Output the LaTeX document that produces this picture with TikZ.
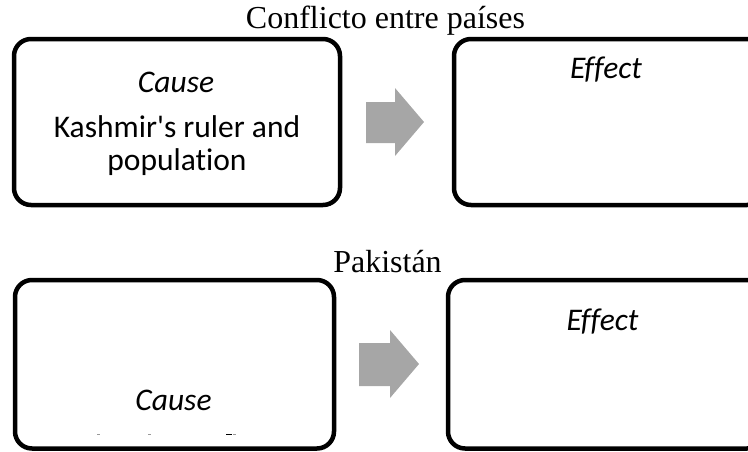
\documentclass[tikz,border=0pt]{standalone}
\usepackage{fontspec}
\setmainfont{Liberation Serif}
\newfontfamily\calib[Ligatures={NoCommon}]{Carlito}
\begin{document}
\begin{tikzpicture}[x=1pt,y=-1pt,
  box/.style={draw=black,line width=4.5pt,rounded corners=17pt},
  arrowfill/.style={fill=black!35,draw=none},
  titletext/.style={anchor=base,inner sep=0pt,font=\fontsize{32}{38}\selectfont},
  boxtext/.style={anchor=base,inner sep=0pt,font=\calib\fontsize{31.5}{37}\selectfont},
  boxital/.style={anchor=base,inner sep=0pt,font=\calib\itshape\fontsize{31.5}{37}\selectfont}]
\useasboundingbox (0,0) rectangle (748,451);
\begin{scope}
\clip (0,0) rectangle (748,451);
% boxes
\draw[box] (14,39) rectangle (340,205);
\coordinate (tl) at (177,122);
\draw[box] (454,39) rectangle (764,205);
\coordinate (tr) at (606,122);
\draw[box] (15,280) rectangle (334,448.5);
\coordinate (bl) at (174,364);
\draw[box] (448,280) rectangle (764,448.5);
\coordinate (br) at (603,364);
\end{scope}
% arrows
\fill[arrowfill] (366,102) -- (395,102) -- (395,88) -- (424,122) -- (395,156) -- (395,143) -- (366,143) -- cycle;
\fill[arrowfill] (359,343) -- (390,343) -- (390,330) -- (419,364) -- (390,398) -- (390,386) -- (359,386) -- cycle;
% titles
\node[titletext] (t1) at (385.5,28) {Conflicto entre países};
\node[titletext] (t2) at (387.5,272) {Pakistán};
% texts
\node[boxital] (c1) at (176,92) {Cause};
\node[boxtext] (k1) at (177,137) {Kashmir's ruler and};
\node[boxtext] (k2) at (177,170) {population};
\node[boxital] (e1) at (606,78) {Effect};
\node[boxital] (e2) at (602.5,330) {Effect};
\node[boxital] (c2) at (173.5,410) {Cause};
% clipped fragments
\fill[black!40] (97,433.5) rectangle (100,435);
\fill[black!40] (148,433.5) rectangle (151,435);
\fill[black] (226,433.5) rectangle (232,435);
\fill[black!40] (233,433.5) rectangle (236,435);
\end{tikzpicture}
\end{document}
